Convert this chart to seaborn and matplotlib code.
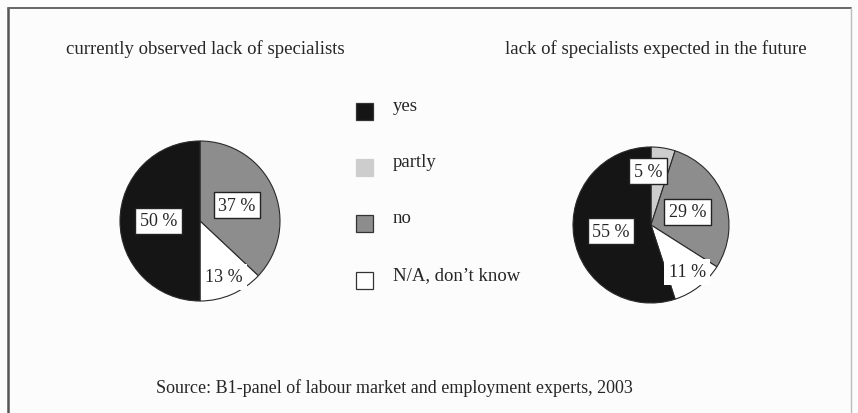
import matplotlib
matplotlib.use("Agg")
import matplotlib.pyplot as plt
from matplotlib.patches import Rectangle
import seaborn as sns

# ---- data ----
categories = ["yes", "partly", "no", "N/A, don't know"]
current_values = [50, 0, 37, 13]
future_values = [55, 5, 29, 11]
titles = ["currently observed lack of specialists",
          "lack of specialists expected in the future"]
source_text = "Source: B1-panel of labour market and employment experts, 2003"

sns.set_theme(style="white")
plt.rcParams["font.family"] = ["Liberation Serif", "DejaVu Serif"]

colors = {"yes": "#151515", "partly": "#cdcdcd", "no": "#8d8d8d",
          "N/A, don't know": "#ffffff"}
label_dist = {"yes": 0.52, "partly": 0.70, "no": 0.50, "N/A, don't know": 0.76}
txt_color = "#262626"
FS = 13.5

W, H = 858, 414
fig = plt.figure(figsize=(W / 100, H / 100), dpi=100)
fig.patch.set_facecolor("#fcfcfc")

bg = fig.add_axes([0, 0, 1, 1])
bg.set_xlim(0, W)
bg.set_ylim(H, 0)
bg.axis("off")
# frame
bg.plot([8, 8], [9, H + 5], color="#555555", lw=1.8)
bg.plot([8, 851], [9, 9], color="#666666", lw=1.4)
bg.plot([851, 851], [9, H + 5], color="#bbbbbb", lw=1.0)

# titles and source
bg.text(205, 49, titles[0], ha="center", va="center", fontsize=FS, color=txt_color)
bg.text(656, 49, titles[1], ha="center", va="center", fontsize=FS, color=txt_color)
bg.text(394, 388, source_text, ha="center", va="center", fontsize=13, color=txt_color)

# legend
leg_y = [112, 168, 224, 281]
for cat, y in zip(categories, leg_y):
    bg.add_patch(Rectangle((356, y - 8.5), 17, 17, facecolor=colors[cat],
                           edgecolor="#333333" if cat != "partly" else colors[cat],
                           lw=0.9))
    bg.text(393, y - 5, cat.replace("'", "\u2019"), ha="left", va="center",
            fontsize=FS, color=txt_color)

# pie order: clockwise from top
order = ["partly", "no", "N/A, don't know", "yes"]


def draw_pie(rect, values):
    ax = fig.add_axes(rect)
    vals = [values[categories.index(c)] for c in order]
    wedges, texts, autotexts = ax.pie(
        vals, colors=[colors[c] for c in order], startangle=90,
        counterclock=False, radius=1.0,
        autopct=lambda p: f"{p:.0f} %" if p > 0.5 else "",
        pctdistance=0.5,
        wedgeprops=dict(edgecolor="#2a2a2a", linewidth=0.8),
        textprops=dict(fontsize=13, color=txt_color))
    for cat, at in zip(order, autotexts):
        x, y = at.get_position()
        f = label_dist[cat] / 0.5
        at.set_position((x * f, y * f))
        if at.get_text():
            edge = "none" if cat == "N/A, don't know" else "#222222"
            at.set_bbox(dict(boxstyle="square,pad=0.25", facecolor="white",
                             edgecolor=edge, linewidth=1.0))
    ax.set_xlim(-1.02, 1.02)
    ax.set_ylim(-1.02, 1.02)
    ax.set_aspect("equal")
    ax.axis("off")
    return autotexts


# left pie centered (200,222) r=80; right pie (651,226) r=78
r1, r2 = 80 * 1.02, 78 * 1.02
draw_pie([(200 - r1) / W, (H - 222 - r1) / H, 2 * r1 / W, 2 * r1 / H], current_values)
at2 = draw_pie([(651 - r2) / W, (H - 226 - r2) / H, 2 * r2 / W, 2 * r2 / H], future_values)
# nudge "5 %" label slightly left as in reference
x, y = at2[0].get_position()
at2[0].set_position((x - 0.15, y))

fig.savefig("out.png", dpi=100, facecolor=fig.get_facecolor())
